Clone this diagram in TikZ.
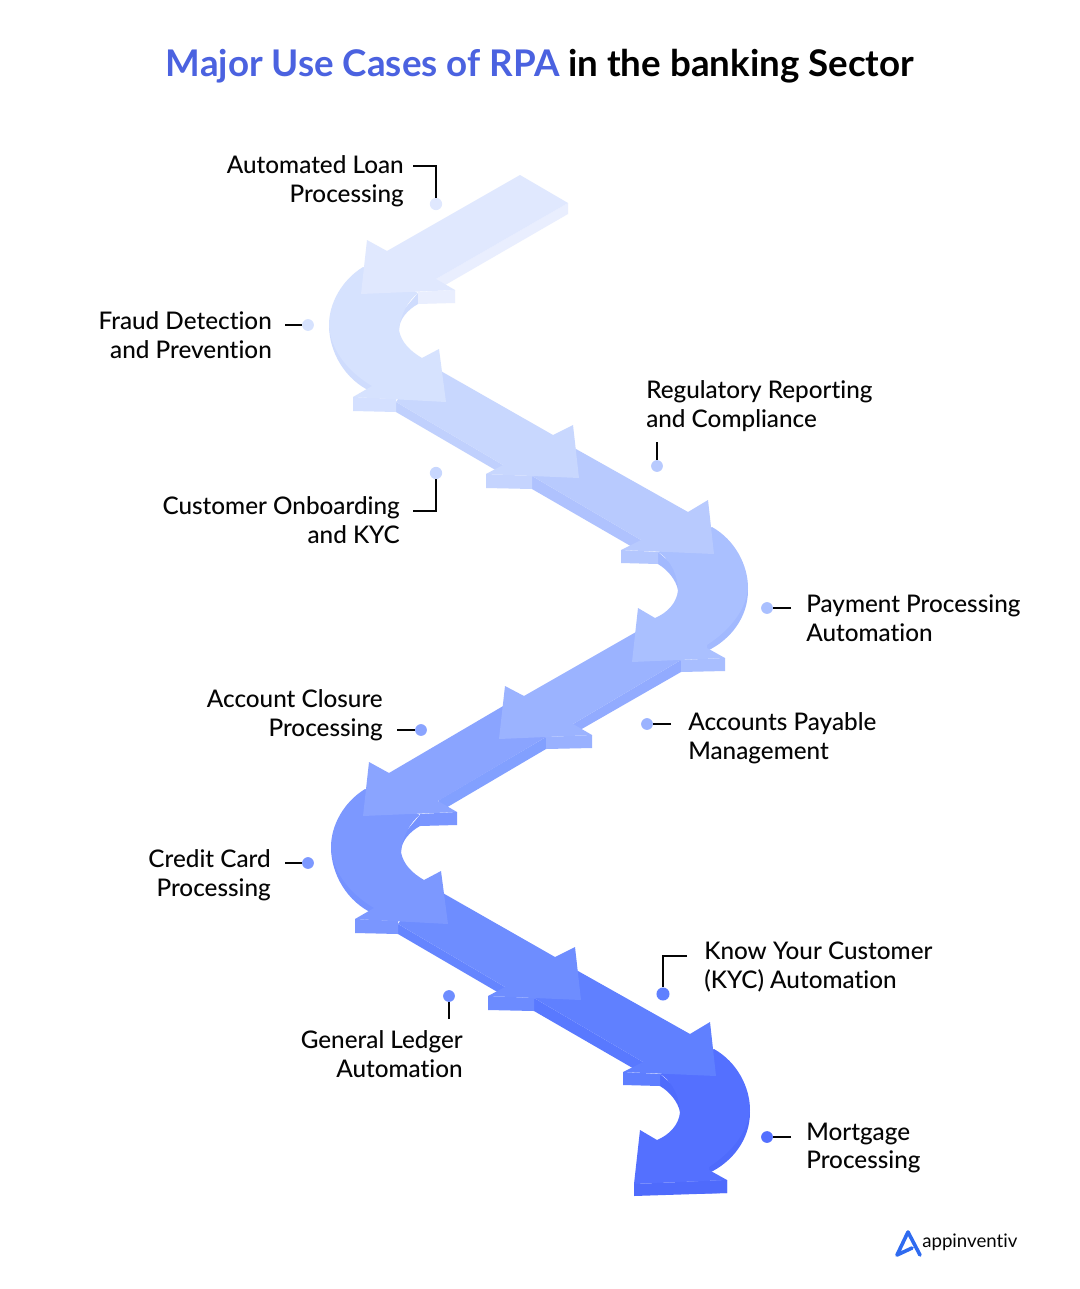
\documentclass[tikz,border=0pt]{standalone}
\usepackage{fontspec}
\setmainfont{Lato Medium}[Ligatures=NoCommon]
\newfontfamily\titlefont{Lato Bold}[Ligatures=NoCommon]
\newfontfamily\brandfont{Lato}[Ligatures=NoCommon]
\definecolor{tb}{HTML}{4B62E0}
\definecolor{ink}{HTML}{050505}
\definecolor{logo}{HTML}{2F6BF0}
% pieces, top to bottom
\definecolor{a1}{HTML}{E0E8FE}\definecolor{a1s}{HTML}{E9EEFE}
\definecolor{a2}{HTML}{D6E2FE}\definecolor{a2s}{HTML}{CFDCFD}\definecolor{a2w}{HTML}{D4E0FF}
\definecolor{a3}{HTML}{C8D7FE}\definecolor{a3s}{HTML}{C0D0FD}\definecolor{a3w}{HTML}{C5D4FE}
\definecolor{a4}{HTML}{B8CAFE}\definecolor{a4s}{HTML}{AFC2FE}\definecolor{a4w}{HTML}{B4C7FE}
\definecolor{a5}{HTML}{AAC0FF}\definecolor{a5s}{HTML}{A2B9FE}\definecolor{a5w}{HTML}{A8BEFF}
\definecolor{a6}{HTML}{9BB3FF}\definecolor{a6s}{HTML}{92ABFF}\definecolor{a6w}{HTML}{99B1FF}
\definecolor{a7}{HTML}{8AA4FF}\definecolor{a7s}{HTML}{82A0FF}\definecolor{a7w}{HTML}{88A2FF}
\definecolor{a8}{HTML}{7C98FF}\definecolor{a8s}{HTML}{7592FF}\definecolor{a8w}{HTML}{7A96FF}
\definecolor{a9}{HTML}{6E8DFF}\definecolor{a9s}{HTML}{6585FF}\definecolor{a9w}{HTML}{6C8BFF}
\definecolor{a10}{HTML}{6080FF}\definecolor{a10s}{HTML}{5979FF}\definecolor{a10w}{HTML}{5E7EFF}
\definecolor{a11}{HTML}{5470FF}\definecolor{a11s}{HTML}{4F6BFC}\definecolor{a11w}{HTML}{5270FF}
\tikzset{
  lab/.style={font=\fontsize{18.2}{21.6}\selectfont,text=ink,inner sep=0pt,align=#1},
  dot/.style={circle,fill=#1,draw=none,inner sep=0pt,minimum size=8.8pt},
  lead/.style={draw=ink,line width=2.1pt},
}
% curve bending left: top, side, wing side
\newcommand\curveL[3]{%
  \fill[#2] (329,325) .. controls (329,352) and (345,380) .. (372,392) -- (392,392) -- (385,350) -- cycle;
  \fill[#2] (418,293) -- (418,304) .. controls (407,310) and (399,320) .. (399,330) -- (395,320) -- cycle;
  \fill[#3] (353,397) -- (353,411) -- (396,412) -- (396,399) -- cycle;
  \fill[#1] (363,267) .. controls (342,280) and (329,303) .. (329,325)
     .. controls (330,347) and (345,370) .. (372,386) -- (353,397) -- (446,402) -- (439,349) -- (422,358)
     .. controls (410,351) and (401,342) .. (399,330) .. controls (400,316) and (408,300) .. (418,293) -- cycle;
}
% curve bending right: top, side, wing side
\newcommand\curveR[3]{%
  \fill[#2] (748,590) .. controls (748,618) and (730,640) .. (707,651) -- (690,640) -- (720,590) -- cycle;
  \fill[#2] (658,552) -- (658,564) .. controls (668,570) and (676,580) .. (678,590) -- (685,575) -- cycle;
  \fill[#3] (681,660) -- (725,658) -- (725,671) -- (681,672) -- cycle;
  \fill[#1] (712,527) .. controls (735,540) and (748,565) .. (748,588)
     .. controls (746,610) and (730,630) .. (707,645) -- (707,648) -- (725,658) -- (632,662) -- (638,608) -- (655,618)
     .. controls (667,613) and (677,603) .. (678,590) .. controls (678,578) and (672,560) .. (658,552) -- (690,540) -- cycle;
}
% straight segment, down-right, to the first head
\newcommand\segB[3]{%
  \fill[#2] (396,402) -- (396,412) -- (504,475) -- (503,465) -- cycle;
  \fill[#3] (486,474) -- (486,488) -- (532,489) -- (532,476) -- cycle;
  \fill[#1] (425,362) -- (553,435) -- (573,425) -- (579,478) -- (486,474) -- (503,465) -- (396,402) -- cycle;
}
\newcommand\segC[3]{%
  \fill[#2] (532,476) -- (532,489) -- (641,552) -- (641,540) -- cycle;
  \fill[#3] (621,550) -- (621,563) -- (658,564) -- (658,552) -- cycle;
  \fill[#1] (560,440) -- (688,512) -- (708,500) -- (714,554) -- (621,550) -- (641,540) -- (532,476) -- cycle;
}
\begin{document}
\begin{tikzpicture}[x=0.75pt,y=-0.75pt]
\useasboundingbox (0,0) rectangle (1080,1289);
\fill[white] (0,0) rectangle (1080,1289);
\node[font=\titlefont\fontsize{27.55}{30}\selectfont,anchor=base,inner sep=0pt] (title) at (540,76)
  {\textcolor{tb}{Major Use Cases of RPA} \textcolor{black}{in the banking Sector}};

% ---- ribbon, painted from its end back to its start
\begin{scope}[shift={(2,522)}]
  \curveR{a11}{a11s}{a11w}
  \fill[a11s] (632,662) -- (632,674) -- (725,671) -- (725,658) -- cycle;
  \segC{a10}{a10s}{a10w}
  \segB{a9}{a9s}{a9w}
  \curveL{a8}{a8s}{a8w}
\end{scope}
% seg 5
\fill[a7s] (546,737) -- (546,749) -- (439,812) -- (439,800) -- cycle;
\fill[a8w] (420,814) -- (457,812) -- (457,825) -- (420,826) -- cycle;
\fill[a7] (510,702) -- (389,773) -- (369,762) -- (363,816) -- (457,812) -- (438,801) -- (546,737) -- (570,700) -- cycle;
% seg 4
\fill[a6s] (681,660) -- (681,672) -- (573,734) -- (573,724) -- cycle;
\fill[a6w] (546,737) -- (592,735) -- (592,748) -- (546,749) -- cycle;
\fill[a6] (650,624) -- (524,696) -- (505,686) -- (499,739) -- (592,735) -- (573,724) -- (681,660) -- (670,630) -- cycle;
\curveR{a5}{a5s}{a5w}
\segC{a4}{a4s}{a4w}
\segB{a3}{a3s}{a3w}
\curveL{a2}{a2s}{a2w}
% seg 1
\fill[a1s] (568,203) -- (568,214) -- (440,288) -- (436,279) -- cycle;
\fill[a1s] (418,292) -- (455,290) -- (455,303) -- (418,304) -- cycle;
\fill[a1] (520,175) -- (568,203) -- (436,279) -- (455,290) -- (361,294) -- (367,240) -- (387,251) -- cycle;

% ---- logo
\draw[logo,line width=2.7pt,line join=round,line cap=round] (912,1248) -- (897,1255) -- (908,1232) -- (920,1255);
\node[font=\brandfont\fontsize{14.0}{16}\selectfont,text=ink,anchor=west,inner sep=0pt] (brand) at (922,1242) {appinventiv};

% ---- labels
\node[lab=right,anchor=east] (l1) at (404,181) {Automated Loan\\Processing};
\node[lab=right,anchor=east] (l2) at (272,335) {Fraud Detection\\and Prevention};
\node[lab=right,anchor=east] (l3) at (400,520) {Customer Onboarding\\and KYC};
\node[lab=left,anchor=west] (l4) at (646,406) {Regulatory Reporting\\and Compliance};
\node[lab=left,anchor=west] (l5) at (806,618) {Payment Processing\\Automation};
\node[lab=right,anchor=east] (l6) at (383,715) {Account Closure\\Processing};
\node[lab=left,anchor=west] (l7) at (688,738) {Accounts Payable\\Management};
\node[lab=right,anchor=east] (l8) at (271,875) {Credit Card\\Processing};
\node[lab=left,anchor=west] (l9) at (704,967) {Know Your Customer\\(KYC) Automation};
\node[lab=right,anchor=east] (l10) at (463,1054) {General Ledger\\Automation};
\node[lab=left,anchor=west] (l11) at (806,1148) {Mortgage\\Processing};

% ---- dots
\node[dot=a1,minimum size=9.2pt] (d1) at (436,204) {};
\node[dot=a2] (d2) at (308,325) {};
\node[dot=a3,minimum size=9.2pt] (d3) at (436,473) {};
\node[dot=a4] (d4) at (657,466) {};
\node[dot=a5] (d5) at (767,608) {};
\node[dot=a7] (d6) at (421,730) {};
\node[dot=a6] (d7) at (647,724) {};
\node[dot=a8] (d8) at (308,863) {};
\node[dot=a10,minimum size=9.8pt] (d9) at (663,994) {};
\node[dot=a9] (d10) at (449,996) {};
\node[dot=a11] (d11) at (767,1137) {};

% ---- free ends of the leaders
\coordinate (c1) at (413,166);
\coordinate (c2) at (285,325);
\coordinate (c3) at (413,511);
\coordinate (c4) at (657,442);
\coordinate (c5) at (791,608);
\coordinate (c6) at (397,730);
\coordinate (c7) at (671,724);
\coordinate (c8) at (285,863);
\coordinate (c9) at (687,956);
\coordinate (c10) at (449,1019);
\coordinate (c11) at (791,1137);
\draw[lead] (c1) -| (d1);
\draw[lead] (c2) -- (d2);
\draw[lead] (c3) -| (d3);
\draw[lead] (c4) -- (d4);
\draw[lead] (c5) -- (d5);
\draw[lead] (c6) -- (d6);
\draw[lead] (c7) -- (d7);
\draw[lead] (c8) -- (d8);
\draw[lead] (c9) -| (d9);
\draw[lead] (c10) -- (d10);
\draw[lead] (c11) -- (d11);
\end{tikzpicture}
\end{document}
